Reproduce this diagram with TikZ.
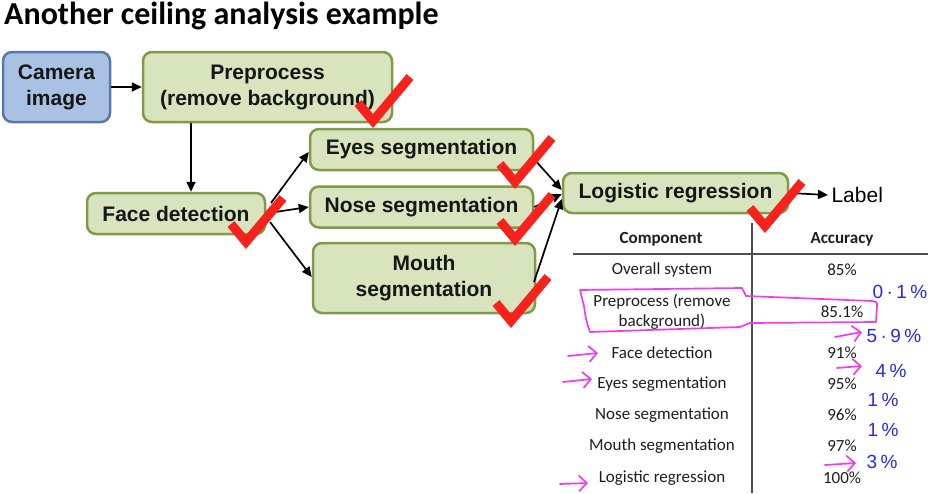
\documentclass[tikz,border=0pt]{standalone}
\usepackage{fontspec}
\setmainfont{Liberation Sans}
\newfontfamily\calibri{Carlito}
\newfontfamily\penfont[LetterSpace=18]{Liberation Sans}
\usetikzlibrary{arrows.meta}

\definecolor{boxgreen}{HTML}{D7E4BD}
\definecolor{boxgreenline}{HTML}{7F9A48}
\definecolor{boxblue}{HTML}{A9C2E4}
\definecolor{boxblueline}{HTML}{5878AC}
\definecolor{checkred}{HTML}{F8221C}
\definecolor{penpink}{HTML}{F03CF0}
\definecolor{penblue}{HTML}{2A2AE6}
\definecolor{rulegray}{HTML}{505050}
\definecolor{tabtext}{HTML}{1E1E1E}
\definecolor{boxtext}{HTML}{161616}

\begin{document}
\begin{tikzpicture}[x=1pt,y=-1pt,
  stage/.style={draw=boxgreenline, fill=boxgreen, line width=2.5pt,
    rounded corners=9pt, align=center, inner sep=0pt, text=boxtext,
    font=\fontsize{21}{26}\selectfont\bfseries},
  source/.style={stage, draw=boxblueline, fill=boxblue},
  arr/.style={line width=1.7pt, -{Triangle[length=10pt,width=9pt]}},
  tab/.style={font=\calibri\fontsize{17}{20}\selectfont, text=tabtext, align=center},
  tabhead/.style={tab, font=\calibri\bfseries\fontsize{17}{20}\selectfont},
  rule/.style={rulegray, line width=1.5pt},
  pen/.style={penpink, line width=1.7pt, line cap=round, line join=round},
  penarrow/.style={pen, -{Straight Barb[length=8pt,width=16pt,line width=1.7pt]}},
  note/.style={text=penblue, font=\penfont\fontsize{19}{21}\selectfont},
  tick/.pic={\draw[checkred, line width=9pt, line join=miter] (-15,-24) -- (0,-6) -- (37,-50);}
]
\useasboundingbox (0,0) rectangle (928,493);
\fill[white] (0,0) rectangle (928,493);

% heading
\node[anchor=base west, inner sep=0pt, font=\calibri\bfseries\fontsize{32}{36}\selectfont] (title) at (4,24) {Another ceiling analysis example};

% pipeline stages
\node[source, minimum width=107, minimum height=70] (cam) at (56.5,87) {Camera\\image};
\node[stage, minimum width=249, minimum height=70] (pre) at (267.5,87) {Preprocess\\(remove background)};
\node[stage, minimum width=178, minimum height=41] (face) at (176,213.5) {Face detection};
\node[stage, minimum width=223, minimum height=41] (eyes) at (421.5,149.5) {Eyes segmentation};
\node[stage, minimum width=223, minimum height=41] (nose) at (421.5,207) {Nose segmentation};
\node[stage, minimum width=222, minimum height=70] (mouth) at (424,278) {Mouth\\segmentation};
\node[stage, minimum width=225, minimum height=40] (logit) at (675.5,193) {Logistic regression};
\node[anchor=west, font=\fontsize{21}{24}\selectfont] (label) at (828,195) {Label};

% connectors
\coordinate (drop) at (191,0);
\coordinate (fa) at (271,203);
\coordinate (fb) at (275,212);
\coordinate (fc) at (270,222);
\coordinate (ea) at (534,159);
\coordinate (ma) at (534,282);
\draw[arr] (cam.east) -- (pre.west);
\draw[arr] (pre.south -| drop) -- (face.north -| drop);
\draw[arr] (fa) -- ([yshift=-2.5pt]eyes.west);
\draw[arr] (fb) -- (nose.west);
\draw[arr] (fc) -- ([yshift=1pt]mouth.west);
\draw[arr] (ea) -- ([yshift=3pt]logit.west);
\draw[arr] (nose.east) -- ([yshift=-1pt]logit.west);
\draw[arr] (ma) -- ([yshift=-6pt]logit.west);
\draw[arr] (logit.east) -- (label.west);

% check marks
\pic at (373,127) {tick};
\pic at (246,248) {tick};
\pic at (515,188) {tick};
\pic at (515,245) {tick};
\pic at (511,327) {tick};
\pic at (765,232) {tick};

% accuracy table
\draw[rule] (752,223) -- (752,493);
\draw[rule] (573,254) -- (928,254);
\node[tabhead] (hcomp) at (661,239) {Component};
\node[tabhead] (hacc) at (842,239) {Accuracy};
\node[tab] (r1) at (662,270) {Overall system};
\node[tab] (a1) at (842,270) {85\%};
\node[tab] (r2) at (662,312) {Preprocess (remove\\background)};
\node[tab] (a2) at (842,312) {85.1\%};
\node[tab] (r3) at (662,353) {Face detection};
\node[tab] (a3) at (842,353) {91\%};
\node[tab] (r4) at (662,384) {Eyes segmentation};
\node[tab] (a4) at (842,384) {95\%};
\node[tab] (r5) at (662,415) {Nose segmentation};
\node[tab] (a5) at (842,415) {96\%};
\node[tab] (r6) at (662,446) {Mouth segmentation};
\node[tab] (a6) at (842,446) {97\%};
\node[tab] (r7) at (662,478) {Logistic regression};
\node[tab] (a7) at (842,478) {100\%};

% pen annotations
\draw[pen] (580,290) -- (742,288) -- (746,296) -- (872,301)
  .. controls (877,302) .. (877,306) -- (876,322) -- (750,323)
  -- (740,327) -- (590,332) .. controls (586,320) .. (584,306) -- cycle;
\coordinate (p1a) at (835,337); \coordinate (p1b) at (862,332);
\coordinate (p2a) at (837,368); \coordinate (p2b) at (862,366);
\coordinate (p3a) at (825,465); \coordinate (p3b) at (856,463);
\coordinate (p4a) at (568,356); \coordinate (p4b) at (598,353);
\coordinate (p5a) at (563,382); \coordinate (p5b) at (592,379);
\coordinate (p6a) at (560,484); \coordinate (p6b) at (588,483);
\draw[penarrow] (p1a) -- (p1b);
\draw[penarrow] (p2a) -- (p2b);
\draw[penarrow] (p3a) -- (p3b);
\draw[penarrow] (p4a) -- (p4b);
\draw[penarrow] (p5a) -- (p5b);
\draw[penarrow] (p6a) -- (p6b);
\node[note] (n1) at (900,292) {0·1\%};
\node[note] (n2) at (894,336) {5·9\%};
\node[note] (n3) at (891,371) {4\%};
\node[note] (n4) at (883,400) {1\%};
\node[note] (n5) at (883,430) {1\%};
\node[note] (n6) at (882,462) {3\%};
\end{tikzpicture}
\end{document}
